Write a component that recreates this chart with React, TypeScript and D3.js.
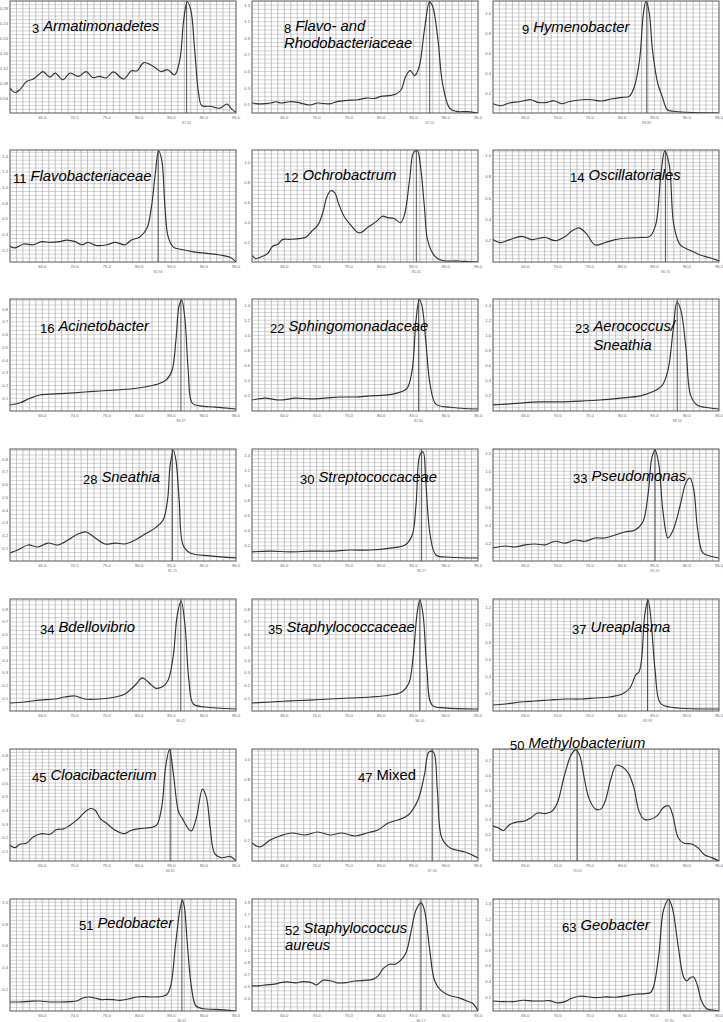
import React from 'react';
import * as d3 from 'd3';

// ---------- DATA ----------
const panelNumbers = ['3', '8', '9', '11', '12', '14', '16', '22', '23', '28', '30', '33', '34', '35', '37', '45', '47', '50', '51', '52', '63'];
const panelNames: string[][] = [
  ['Armatimonadetes'], ['Flavo- and', 'Rhodobacteriaceae'], ['Hymenobacter'],
  ['Flavobacteriaceae'], ['Ochrobactrum'], ['Oscillatoriales'],
  ['Acinetobacter'], ['Sphingomonadaceae'], ['Aerococcus/', 'Sneathia'],
  ['Sneathia'], ['Streptococcaceae'], ['Pseudomonas'],
  ['Bdellovibrio'], ['Staphylococcaceae'], ['Ureaplasma'],
  ['Cloacibacterium'], ['Mixed'], ['Methylobacterium'],
  ['Pedobacter'], ['Staphylococcus', 'aureus'], ['Geobacter'],
];
const italicNames = [true, true, true, true, true, true, true, true, true, true, true, true, true, true, true, true, false, true, true, true, true];

const xDomain: [number, number] = [60, 95];
const xTicks = [65, 70, 75, 80, 85, 90, 95];

const yDomains: [number, number][] = [
  [0, 0.30], [0, 1.35], [0, 1.12],
  [0.05, 1.48], [0.01, 1.12], [0, 1.05],
  [0, 0.88], [0, 1.48], [0, 1.48],
  [0, 0.88], [0, 1.48], [0, 1.25],
  [0, 0.88], [0, 0.88], [0, 1.3],
  [0.03, 0.85], [0, 1.1], [0.02, 0.78],
  [0, 1.03], [0.1, 1.95], [0.02, 1.46],
];
const t01 = [0.1, 0.2, 0.3, 0.4, 0.5, 0.6, 0.7, 0.8];
const t02to10 = [0.2, 0.4, 0.6, 0.8, 1.0];
const t02to12 = [0.2, 0.4, 0.6, 0.8, 1.0, 1.2];
const t02to14 = [0.2, 0.4, 0.6, 0.8, 1.0, 1.2, 1.4];
const yTickValues: number[][] = [
  [0.04, 0.08, 0.12, 0.16, 0.20, 0.24, 0.28], [0.1, 0.3, 0.5, 0.7, 0.9, 1.1, 1.3], t02to10,
  t02to14, t02to10, t02to10,
  t01, t02to14, t02to14,
  t01, t02to14, t02to12,
  t01, t01, t02to12,
  t01, t02to10, [0.1, 0.2, 0.3, 0.4, 0.5, 0.6, 0.7],
  t02to10, [0.3, 0.5, 0.7, 0.9, 1.1, 1.3, 1.5, 1.7, 1.9], t02to14,
];
const yTickDecimals = [2, 1, 1, 1, 1, 1, 1, 1, 1, 1, 1, 1, 1, 1, 1, 1, 1, 1, 1, 1, 1];
const peakTm = [87.35, 87.52, 83.82, 82.94, 85.45, 86.70, 86.47, 85.80, 88.53, 85.15, 86.27, 85.10, 86.45, 86.00, 83.93, 84.81, 87.90, 73.03, 86.62, 86.17, 87.30];

const p03: [number, number][] = [[60, 0.067], [60.8, 0.055], [61.5, 0.062], [62.6, 0.085], [63.6, 0.091], [64.4, 0.102], [65.1, 0.111], [66.2, 0.096], [67.0, 0.107], [68.2, 0.089], [69.3, 0.107], [70.6, 0.098], [71.8, 0.111], [72.8, 0.095], [73.9, 0.098], [74.9, 0.094], [76.0, 0.110], [77.6, 0.091], [78.8, 0.113], [79.7, 0.113], [80.7, 0.135], [82.2, 0.125], [83.4, 0.111], [84.4, 0.116], [85.5, 0.102], [86.3, 0.142], [86.9, 0.249], [87.45, 0.298], [88.0, 0.276], [88.6, 0.169], [89.2, 0.053], [89.7, 0.020], [91.0, 0.018], [92.5, 0.013], [93.6, 0.024], [94.3, 0.011], [95, 0.002]];
const p08: [number, number][] = [[60, 0.12], [61.4, 0.11], [62.9, 0.12], [63.7, 0.136], [64.5, 0.12], [65.8, 0.136], [67.1, 0.128], [68.9, 0.096], [70.2, 0.12], [72.0, 0.11], [73.3, 0.14], [74.8, 0.152], [76.4, 0.16], [77.7, 0.18], [79.0, 0.176], [80.0, 0.20], [81.5, 0.212], [82.3, 0.228], [83.1, 0.28], [83.8, 0.44], [84.5, 0.51], [85.2, 0.45], [85.9, 0.56], [86.7, 1.00], [87.5, 1.34], [88.0, 1.28], [88.8, 0.88], [89.5, 0.36], [90.6, 0.06], [91.6, 0.02], [93.4, 0.016], [95, 0.0]];
const p09: [number, number][] = [[60, 0.093], [61.3, 0.073], [62.5, 0.10], [64.1, 0.113], [65.9, 0.133], [66.9, 0.106], [68.4, 0.106], [69.4, 0.123], [70.7, 0.093], [71.7, 0.113], [73.8, 0.133], [75.3, 0.133], [76.8, 0.12], [78.3, 0.14], [79.9, 0.156], [81.1, 0.166], [81.9, 0.266], [82.7, 0.53], [83.3, 1.0], [83.7, 1.12], [84.2, 1.0], [84.7, 0.63], [85.5, 0.30], [86.2, 0.166], [87.0, 0.033], [88.0, 0.017], [90.1, 0.007], [95, 0.0]];
const p11: [number, number][] = [[60, 0.25], [60.8, 0.23], [62.1, 0.28], [63.6, 0.27], [64.9, 0.31], [66.2, 0.30], [67.7, 0.31], [68.8, 0.33], [70.1, 0.31], [71.1, 0.27], [72.1, 0.30], [73.4, 0.26], [75.0, 0.27], [76.3, 0.30], [77.8, 0.27], [78.8, 0.33], [80.1, 0.37], [81.2, 0.48], [81.9, 0.75], [82.5, 1.18], [83.0, 1.47], [83.5, 1.35], [84.0, 0.75], [84.5, 0.37], [85.3, 0.24], [86.6, 0.21], [88.4, 0.18], [90.5, 0.16], [92.5, 0.14], [94.1, 0.11], [95, 0.05]];
const p12: [number, number][] = [[60, 0.076], [60.6, 0.043], [61.4, 0.06], [62.4, 0.093], [63.2, 0.166], [64.0, 0.186], [64.7, 0.232], [66.0, 0.235], [67.3, 0.242], [68.4, 0.259], [69.4, 0.325], [70.2, 0.375], [71.0, 0.507], [71.6, 0.657], [72.2, 0.716], [72.8, 0.697], [73.4, 0.59], [74.3, 0.458], [75.3, 0.375], [76.4, 0.302], [76.9, 0.302], [77.9, 0.352], [79.2, 0.408], [80.2, 0.464], [81.0, 0.45], [82.0, 0.441], [83.0, 0.40], [83.6, 0.474], [84.4, 0.82], [85.0, 1.09], [85.6, 1.115], [86.1, 0.955], [86.7, 0.557], [87.2, 0.226], [88.2, 0.076], [89.3, 0.027], [91.9, 0.02], [93.9, 0.012], [95, 0.01]];
const p14: [number, number][] = [[60, 0.21], [61.1, 0.18], [62.6, 0.21], [64.5, 0.24], [66.0, 0.21], [68.1, 0.23], [69.6, 0.20], [71.2, 0.24], [72.2, 0.29], [73.3, 0.32], [74.4, 0.27], [75.8, 0.16], [77.3, 0.18], [78.9, 0.21], [80.9, 0.225], [82.8, 0.23], [84.3, 0.24], [85.2, 0.35], [86.0, 0.82], [86.6, 1.04], [87.3, 0.91], [88.0, 0.35], [89.0, 0.16], [90.5, 0.11], [92.1, 0.066], [93.6, 0.04], [95, 0.01]];
const p16: [number, number][] = [[60, 0.047], [61.5, 0.063], [63.1, 0.10], [64.6, 0.126], [67.0, 0.134], [69.3, 0.141], [71.6, 0.149], [73.9, 0.157], [76.3, 0.165], [78.6, 0.173], [80.9, 0.189], [82.9, 0.212], [84.2, 0.244], [85.1, 0.32], [85.7, 0.56], [86.2, 0.83], [86.6, 0.87], [87.1, 0.715], [87.6, 0.32], [88.2, 0.063], [89.4, 0.04], [91.8, 0.031], [95, 0.016]];
const p22: [number, number][] = [[60, 0.145], [62, 0.17], [64.3, 0.145], [66.7, 0.17], [69.0, 0.16], [71.3, 0.17], [73.6, 0.185], [76.0, 0.185], [78.3, 0.2], [80.6, 0.21], [82.6, 0.24], [84.0, 0.30], [84.8, 0.54], [85.4, 1.2], [85.9, 1.47], [86.3, 1.40], [86.9, 0.94], [87.6, 0.34], [88.5, 0.09], [90.7, 0.05], [95, 0.026]];
const p23: [number, number][] = [[60, 0.08], [61.9, 0.09], [64.2, 0.105], [67.3, 0.12], [70.4, 0.12], [73.5, 0.13], [76.6, 0.145], [79.7, 0.17], [82.8, 0.2], [84.6, 0.25], [86.2, 0.34], [87.1, 0.54], [87.9, 1.07], [88.5, 1.44], [89.1, 1.33], [89.9, 0.81], [90.6, 0.21], [91.6, 0.08], [93.6, 0.04], [95, 0.026]];
const p28: [number, number][] = [[60, 0.063], [61.2, 0.086], [62.8, 0.126], [64.3, 0.11], [65.9, 0.141], [67.4, 0.126], [69.0, 0.165], [70.5, 0.212], [71.8, 0.228], [73.2, 0.18], [74.7, 0.134], [76.3, 0.141], [77.8, 0.134], [79.4, 0.165], [80.9, 0.212], [82.5, 0.26], [83.7, 0.32], [84.4, 0.48], [84.8, 0.75], [85.3, 0.87], [85.7, 0.79], [86.2, 0.48], [86.8, 0.126], [87.9, 0.063], [91.0, 0.04], [95, 0.024]];
const p30: [number, number][] = [[60, 0.12], [62.8, 0.13], [65.9, 0.12], [69.0, 0.13], [72.1, 0.13], [75.2, 0.145], [78.3, 0.145], [81.4, 0.17], [83.7, 0.21], [84.8, 0.34], [85.4, 0.74], [86.0, 1.40], [86.5, 1.44], [86.9, 1.07], [87.6, 0.34], [88.5, 0.08], [90.7, 0.05], [95, 0.04]];
const p33: [number, number][] = [[60, 0.145], [61.9, 0.167], [63.4, 0.156], [65.0, 0.18], [66.5, 0.19], [68.1, 0.18], [69.6, 0.22], [71.2, 0.2], [72.7, 0.234], [74.2, 0.22], [75.8, 0.257], [77.3, 0.257], [78.9, 0.29], [80.4, 0.324], [82.0, 0.346], [83.2, 0.435], [84.0, 0.737], [84.6, 1.15], [85.1, 1.24], [85.7, 1.07], [86.3, 0.57], [87.1, 0.257], [87.9, 0.346], [89.0, 0.625], [89.9, 0.88], [90.5, 0.926], [91.1, 0.79], [91.7, 0.346], [92.5, 0.09], [93.6, 0.056], [95, 0.033]];
const p34: [number, number][] = [[60, 0.063], [62.3, 0.071], [64.6, 0.086], [67.0, 0.094], [68.5, 0.11], [70.1, 0.118], [71.6, 0.094], [73.9, 0.094], [76.3, 0.11], [77.8, 0.134], [79.4, 0.204], [80.5, 0.26], [81.4, 0.228], [82.5, 0.18], [83.6, 0.19], [84.5, 0.244], [85.3, 0.44], [85.9, 0.754], [86.5, 0.864], [87.1, 0.676], [87.7, 0.244], [88.4, 0.055], [90.2, 0.031], [95, 0.016]];
const p35: [number, number][] = [[60, 0.063], [62.8, 0.071], [65.9, 0.079], [69.0, 0.086], [72.1, 0.094], [75.2, 0.102], [78.3, 0.11], [81.4, 0.126], [83.2, 0.15], [84.3, 0.22], [84.9, 0.40], [85.6, 0.78], [86.0, 0.872], [86.5, 0.754], [87.1, 0.32], [87.9, 0.047], [89.9, 0.024], [95, 0.016]];
const p37: [number, number][] = [[60, 0.07], [61.9, 0.081], [64.2, 0.104], [66.5, 0.116], [68.8, 0.128], [71.2, 0.139], [73.5, 0.139], [75.8, 0.151], [78.1, 0.163], [80.0, 0.197], [81.2, 0.267], [82.1, 0.418], [82.6, 0.453], [83.0, 0.592], [83.5, 1.114], [84.0, 1.29], [84.4, 1.114], [85.1, 0.476], [85.9, 0.093], [87.4, 0.046], [95, 0.023]];
const p45: [number, number][] = [[60, 0.145], [60.8, 0.128], [61.5, 0.152], [62.6, 0.162], [63.6, 0.206], [64.9, 0.23], [66.2, 0.226], [67.2, 0.26], [68.3, 0.265], [69.3, 0.292], [70.6, 0.34], [71.6, 0.389], [72.5, 0.414], [73.2, 0.402], [74.0, 0.34], [75.0, 0.304], [76.3, 0.255], [77.6, 0.23], [78.8, 0.255], [80.1, 0.267], [81.7, 0.274], [82.7, 0.292], [83.5, 0.426], [84.1, 0.72], [84.7, 0.847], [85.3, 0.67], [86.1, 0.39], [86.7, 0.34], [87.6, 0.267], [88.1, 0.25], [88.9, 0.353], [89.8, 0.556], [90.4, 0.5], [91.0, 0.279], [91.7, 0.084], [92.8, 0.054], [94.1, 0.064], [95, 0.03]];
const p47: [number, number][] = [[60, 0.177], [61.2, 0.138], [62.8, 0.206], [64.3, 0.246], [66.2, 0.275], [68.2, 0.255], [70.2, 0.285], [72.1, 0.255], [73.9, 0.275], [76.0, 0.246], [77.8, 0.275], [79.5, 0.305], [81.1, 0.373], [82.6, 0.403], [84.2, 0.452], [85.7, 0.60], [86.7, 0.845], [87.4, 1.07], [88.1, 1.07], [88.7, 0.70], [89.4, 0.226], [90.7, 0.128], [93.0, 0.088], [95, 0.03]];
const p50: [number, number][] = [[60, 0.257], [60.8, 0.245], [61.6, 0.227], [62.6, 0.268], [63.6, 0.284], [64.9, 0.291], [65.9, 0.314], [66.9, 0.346], [68.2, 0.342], [69.2, 0.36], [70.0, 0.418], [71.0, 0.59], [72.1, 0.74], [72.8, 0.774], [73.4, 0.74], [74.1, 0.59], [74.9, 0.44], [75.9, 0.372], [76.7, 0.372], [77.4, 0.429], [78.2, 0.567], [79.1, 0.67], [80.0, 0.659], [81.0, 0.613], [81.8, 0.521], [82.6, 0.36], [83.4, 0.303], [84.4, 0.303], [85.4, 0.326], [86.4, 0.383], [87.2, 0.395], [87.8, 0.337], [88.7, 0.176], [89.5, 0.142], [90.8, 0.135], [91.8, 0.107], [92.8, 0.061], [93.9, 0.043], [95, 0.02]];
const p51: [number, number][] = [[60, 0.083], [61.5, 0.083], [63.1, 0.089], [64.6, 0.092], [66.2, 0.083], [67.7, 0.083], [69.3, 0.086], [70.3, 0.092], [71.3, 0.12], [72.3, 0.129], [73.1, 0.12], [74.2, 0.104], [74.9, 0.107], [76.0, 0.104], [77.0, 0.098], [78.3, 0.11], [79.6, 0.129], [80.8, 0.132], [82.1, 0.129], [83.7, 0.135], [84.4, 0.16], [84.96, 0.25], [85.6, 0.59], [86.3, 0.926], [86.7, 1.02], [87.0, 0.957], [87.5, 0.589], [88.1, 0.22], [88.8, 0.046], [89.9, 0.021], [91.9, 0.015], [95, 0.0]];
const p52: [number, number][] = [[60, 0.516], [61.1, 0.516], [62.2, 0.532], [63.5, 0.543], [64.4, 0.569], [65.5, 0.58], [66.8, 0.564], [67.9, 0.585], [69.2, 0.569], [70.0, 0.532], [71.0, 0.607], [72.3, 0.596], [73.3, 0.564], [74.6, 0.569], [75.9, 0.596], [77.4, 0.607], [78.7, 0.623], [79.5, 0.676], [80.3, 0.799], [81.3, 0.873], [82.2, 0.873], [83.1, 0.943], [83.9, 1.076], [84.7, 1.449], [85.4, 1.769], [86.2, 1.887], [86.7, 1.769], [87.5, 1.129], [88.3, 0.596], [89.3, 0.436], [90.6, 0.356], [92.2, 0.313], [93.4, 0.26], [94.2, 0.223], [95, 0.1]];
const p63: [number, number][] = [[60, 0.149], [61.5, 0.141], [63.1, 0.141], [64.6, 0.158], [66.2, 0.149], [67.7, 0.149], [68.7, 0.154], [70.0, 0.124], [71.0, 0.137], [72.1, 0.18], [73.3, 0.21], [74.4, 0.206], [75.4, 0.193], [76.4, 0.193], [77.4, 0.201], [79.0, 0.197], [80.5, 0.214], [82.1, 0.236], [83.6, 0.244], [84.4, 0.257], [84.9, 0.344], [85.7, 0.754], [86.4, 1.315], [87.2, 1.453], [87.8, 1.337], [88.7, 0.84], [89.5, 0.46], [90.0, 0.408], [90.5, 0.443], [91.0, 0.46], [91.6, 0.365], [92.3, 0.149], [93.1, 0.05], [94.4, 0.029], [95, 0.02]];

const curves = [p03, p08, p09, p11, p12, p14, p16, p22, p23, p28, p30, p33, p34, p35, p37, p45, p47, p50, p51, p52, p63];

// ---------- LAYOUT (styles, not data) ----------
const colLeft = [10, 252, 493];
const rowTop = [1, 150, 299, 449, 599, 749, 899];
const PW = 226;
const PH = 112;
// title offset from plot top-left: [dx, dy(baseline), lineGap, secondLineAlignsWithName(1) or number(0)]
const titleOffsets: [number, number, number, number][] = [
  [22, 30, 17, 0], [32, 30, 17, 0], [29, 31, 17, 0],
  [3, 31, 17, 0], [32, 30, 17, 0], [77, 30, 17, 0],
  [30, 32, 17, 0], [18, 32, 17, 0], [82, 32, 19, 1],
  [73, 33, 17, 0], [48, 33, 17, 0], [80, 32, 17, 0],
  [30, 33, 17, 0], [16, 33, 17, 0], [79, 33, 17, 0],
  [22, 31, 17, 0], [106, 31, 17, 0], [17, -1, 17, 0],
  [69, 29, 17, 0], [33, 34, 17, 0], [69, 31, 17, 0],
];

const FONT = '"Liberation Sans", Arial, Helvetica, sans-serif';
const NAME_SIZE = 14.8;
const NUM_SIZE = 13;

function Panel({ i }: { i: number }) {
  const col = i % 3;
  const row = Math.floor(i / 3);
  const left = colLeft[col];
  const top = rowTop[row];
  const x = d3.scaleLinear().domain(xDomain).range([left, left + PW]);
  const y = d3.scaleLinear().domain(yDomains[i]).range([top + PH, top]);
  const ticks = yTickValues[i];
  const major = ticks[1] - ticks[0];
  const majorPx = Math.abs(y(0) - y(major));
  const nMinor = Math.max(2, Math.round(majorPx / 3.8));
  const minor = major / nMinor;
  const hGrid: number[] = [];
  const [y0, y1] = yDomains[i];
  for (let k = -200; k < 400; k++) {
    const v = ticks[0] + k * minor;
    if (v > y0 + 1e-9 && v < y1 - 1e-9) hGrid.push(v);
  }
  const vGrid = d3.range(xDomain[0] + 1, xDomain[1]);
  const line = d3.line<[number, number]>()
    .x(d => x(d[0]))
    .y(d => y(d[1]))
    .curve(d3.curveCatmullRom.alpha(0.5));
  const clipId = `clip${i}`;
  const [tdx, tdy, gap, alignName] = titleOffsets[i];
  const names = panelNames[i];
  const fmt = d3.format(`.${yTickDecimals[i]}f`);
  const tm = peakTm[i];
  const numW = panelNumbers[i].length * 7.2 + 4;
  return (
    <g>
      <defs>
        <clipPath id={clipId}>
          <rect x={left} y={top} width={PW} height={PH} />
        </clipPath>
      </defs>
      <rect x={left} y={top} width={PW} height={PH} fill="#fff" />
      {vGrid.map(v => (
        <line key={'v' + v} x1={x(v)} x2={x(v)} y1={top} y2={top + PH} stroke="#9c9c9c" strokeWidth={0.6} />
      ))}
      {hGrid.map((v, k) => (
        <line key={'h' + k} x1={left} x2={left + PW} y1={y(v)} y2={y(v)} stroke="#a8a8a8" strokeWidth={0.5} />
      ))}
      <line x1={x(tm)} x2={x(tm)} y1={top} y2={top + PH} stroke="#555" strokeWidth={1} />
      <path d={line(curves[i]) || ''} fill="none" stroke="#333" strokeWidth={1.15} clipPath={`url(#${clipId})`} />
      <rect x={left} y={top} width={PW} height={PH} fill="none" stroke="#444" strokeWidth={0.9} />
      {ticks.map(t => (
        <text key={'yt' + t} x={left - 2} y={y(t) + 1.5} fontSize={4.2} fill="#666" textAnchor="end" fontFamily={FONT}>{fmt(t)}</text>
      ))}
      {xTicks.map(t => (
        <text key={'xt' + t} x={x(t)} y={top + PH + 6} fontSize={4.2} fill="#666" textAnchor="middle" fontFamily={FONT}>{t.toFixed(1)}</text>
      ))}
      <text x={x(tm)} y={top + PH + 10.5} fontSize={3.6} fill="#777" textAnchor="middle" fontFamily={FONT}>{tm.toFixed(2)}</text>
      <text x={left + tdx} y={top + tdy + 2} fontFamily={FONT} fill="#000">
        <tspan fontSize={NUM_SIZE}>{panelNumbers[i]}</tspan>
        <tspan dx={4} dy={-2} fontSize={NAME_SIZE} fontStyle={italicNames[i] ? 'italic' : 'normal'}>{names[0]}</tspan>
      </text>
      {names.length > 1 && (
        <text
          x={left + tdx + (alignName ? numW : 0)}
          y={top + tdy + gap}
          fontFamily={FONT}
          fontSize={NAME_SIZE}
          fontStyle={italicNames[i] ? 'italic' : 'normal'}
          fill="#000"
        >{names[1]}</text>
      )}
    </g>
  );
}

export default function App() {
  return (
    <svg
      width={723}
      height={1022}
      viewBox="0 0 723 1022"
      style={{ position: 'absolute', left: 0, top: 0, background: '#fff' }}
    >
      <rect x={0} y={0} width={723} height={1022} fill="#fff" />
      {curves.map((_, i) => <Panel key={i} i={i} />)}
    </svg>
  );
}
